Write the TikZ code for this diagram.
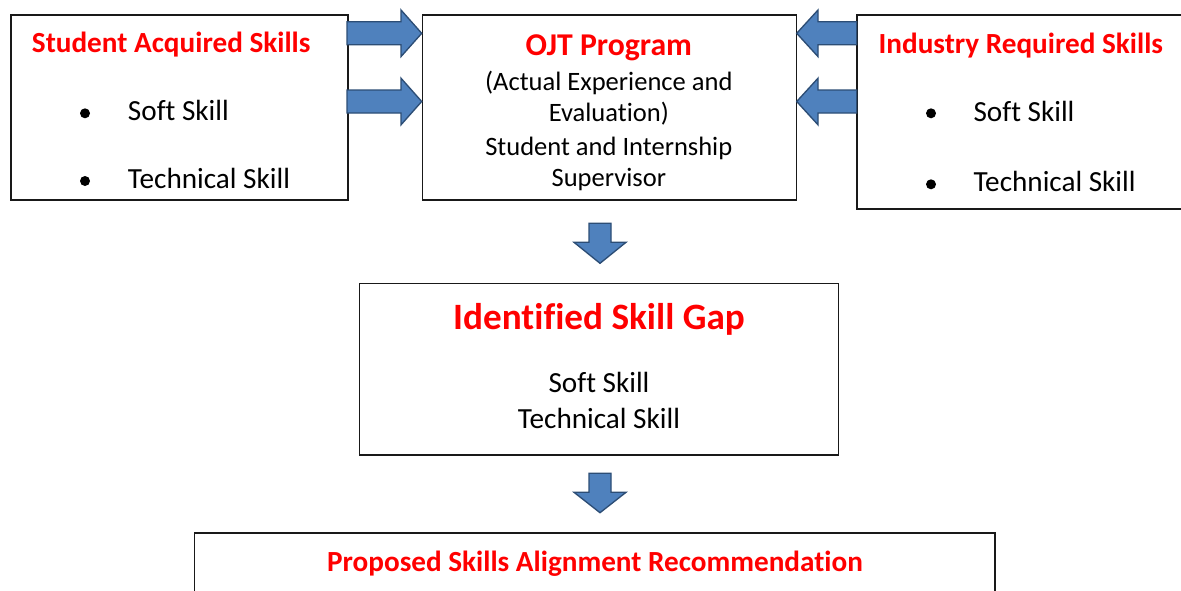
\documentclass[tikz,border=0pt]{standalone}
\usepackage{fontspec}
\setmainfont{Carlito}[Ligatures=NoCommon]
\usetikzlibrary{fit}
\definecolor{arrfill}{HTML}{4F81BD}
\definecolor{arrdraw}{HTML}{2C4D75}
\definecolor{titlered}{HTML}{FF0000}
\begin{document}
\begin{tikzpicture}[x=0.75pt,y=-0.75pt,
  box/.style={draw=black!90, line width=1.1pt, inner sep=0pt},
  blk/.style={fill=arrfill, draw=arrdraw, line width=1pt, line join=miter},
  ttl/.style={text=titlered, font=\fontsize{21.9pt}{26pt}\selectfont\bfseries, anchor=base, inner sep=0pt},
  txt/.style={font=\fontsize{21.9pt}{26pt}\selectfont, inner sep=0pt},
  ojtxt/.style={font=\fontsize{19.9pt}{24pt}\selectfont, inner sep=0pt, anchor=base},
  dot/.style={circle, fill=black, inner sep=0pt, minimum size=7.5pt}]
\useasboundingbox (0,0) rectangle (1181,590);
\fill[white] (0,0) rectangle (1181,590);

% boxes
\node[box, fit={(11,15) (348,200)}] (sa) {};
\node[box, fit={(422.5,15) (796.5,200)}] (ojt) {};
\node[box, fit={(857,15) (1190,209)}] (ir) {};
\node[box, fit={(359.5,283.5) (838.5,455)}] (gap) {};
\node[box, fit={(194.5,533) (995,610)}] (rec) {};

% left box
\node[ttl] (satitle) at (171.2,52.7) {Student Acquired Skills};
\node[dot] (sab1) at (85,113.3) {};
\node[dot] (sab2) at (85,181) {};
\node[txt, anchor=base west] (sat1) at (127.7,120.7) {Soft Skill};
\node[txt, anchor=base west] (sat2) at (127.7,188.3) {Technical Skill};

% middle box
\node[ttl, font=\fontsize{23.8pt}{28pt}\selectfont\bfseries] (ojttitle) at (608.8,55) {OJT Program};
\node[ojtxt] (ojt1) at (608.8,90) {(Actual Experience and};
\node[ojtxt] (ojt2) at (608.8,121.7) {Evaluation)};
\node[ojtxt] (ojt3) at (608.8,155) {Student and Internship};
\node[ojtxt] (ojt4) at (608.8,186) {Supervisor};

% right box
\node[ttl] (irtitle) at (1020.8,53.3) {Industry Required Skills};
\node[dot] (irb1) at (931,113.3) {};
\node[dot] (irb2) at (931,184.3) {};
\node[txt, anchor=base west] (irt1) at (973.3,121.7) {Soft Skill};
\node[txt, anchor=base west] (irt2) at (973.3,191.7) {Technical Skill};

% gap box
\node[ttl, font=\fontsize{27.9pt}{32pt}\selectfont\bfseries] (gaptitle) at (599,329.3) {Identified Skill Gap};
\node[txt, anchor=base] (gap1) at (599,392.7) {Soft Skill};
\node[txt, anchor=base] (gap2) at (599,428.3) {Technical Skill};

% recommendation box
\node[ttl] (rectitle) at (595,571) {Proposed Skills Alignment Recommendation};

% block arrows
\draw[blk] (347,21.8) -- (401,21.8) -- (401,10) -- (421.7,33.3) -- (401,56.6) -- (401,44.8) -- (347,44.8) -- cycle;
\draw[blk] (347,90) -- (401,90) -- (401,78.2) -- (421.7,101.5) -- (401,124.8) -- (401,113) -- (347,113) -- cycle;
\draw[blk] (856.7,21.8) -- (818,21.8) -- (818,10) -- (796.7,33.3) -- (818,56.6) -- (818,44.8) -- (856.7,44.8) -- cycle;
\draw[blk] (856.7,90) -- (818,90) -- (818,78.2) -- (796.7,101.5) -- (818,124.8) -- (818,113) -- (856.7,113) -- cycle;
\draw[blk] (589,223.3) -- (611,223.3) -- (611,242.3) -- (626,242.3) -- (600,263.3) -- (574,242.3) -- (589,242.3) -- cycle;
\draw[blk] (589,473.3) -- (611,473.3) -- (611,492.3) -- (626,492.3) -- (600,512.7) -- (574,492.3) -- (589,492.3) -- cycle;
\end{tikzpicture}
\end{document}
